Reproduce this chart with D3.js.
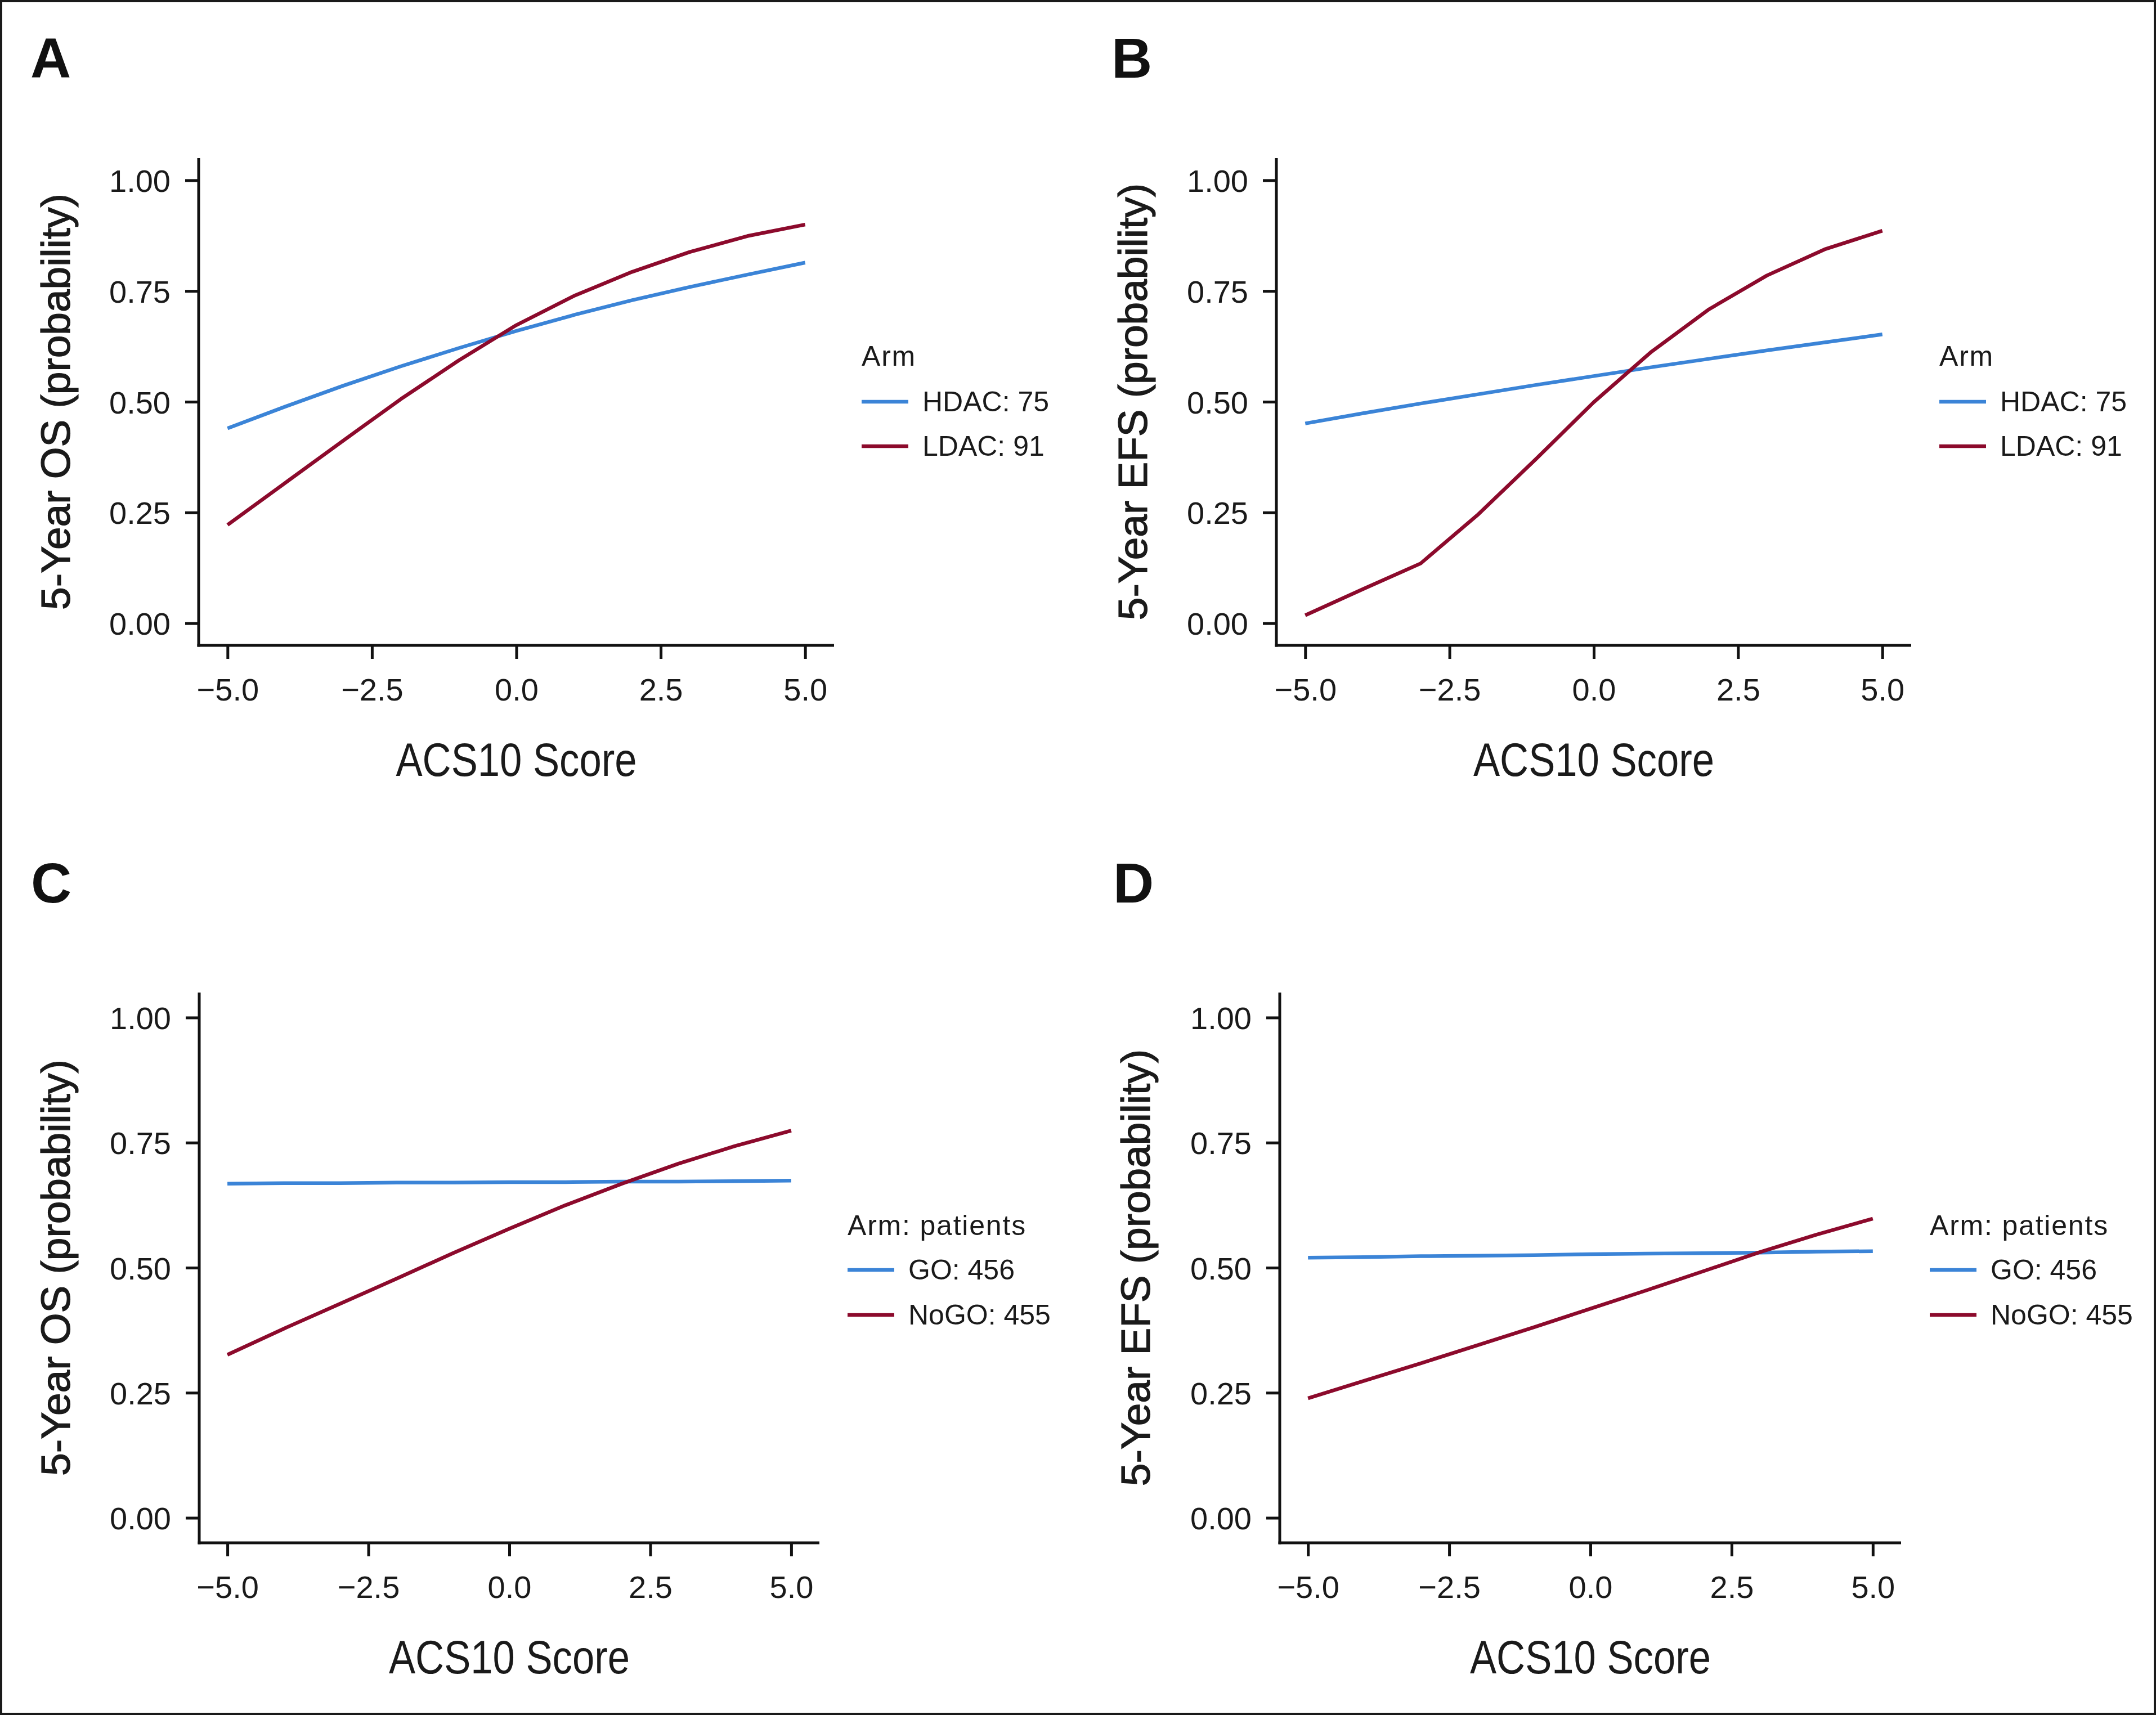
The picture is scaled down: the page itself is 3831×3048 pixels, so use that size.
<!DOCTYPE html>
<html>
<head>
<meta charset="utf-8">
<script src="https://cdn.jsdelivr.net/npm/d3@7"></script>
<style>
  html, body { margin: 0; padding: 0; background: #fff; }
  svg { display: block; }
  text { font-family: "Liberation Sans", Arial, Helvetica, sans-serif; fill: #1a1a1a; }
</style>
</head>
<body>
<svg id="chart" width="3831" height="3048"></svg>
<script>
// ---------- data ----------
const xValues = [-5, -4, -3, -2, -1, 0, 1, 2, 3, 4, 5];

const aHDAC = [0.440, 0.489, 0.536, 0.580, 0.621, 0.660, 0.696, 0.729, 0.759, 0.787, 0.814];
const aLDAC = [0.222, 0.317, 0.412, 0.506, 0.593, 0.673, 0.739, 0.793, 0.838, 0.874, 0.900];

const bHDAC = [0.451, 0.474, 0.496, 0.517, 0.538, 0.558, 0.578, 0.597, 0.616, 0.634, 0.652];
const bLDAC = [0.018, 0.077, 0.135, 0.246, 0.371, 0.499, 0.613, 0.709, 0.785, 0.844, 0.886];

const cGO   = [0.668, 0.669, 0.669, 0.670, 0.670, 0.671, 0.671, 0.672, 0.672, 0.673, 0.674];
const cNoGO = [0.326, 0.378, 0.428, 0.478, 0.529, 0.578, 0.625, 0.668, 0.708, 0.743, 0.774];

const dGO   = [0.520, 0.521, 0.523, 0.524, 0.525, 0.527, 0.528, 0.529, 0.530, 0.532, 0.533];
const dNoGO = [0.239, 0.274, 0.309, 0.345, 0.381, 0.418, 0.455, 0.493, 0.531, 0.566, 0.598];

const xTickValues = [-5, -2.5, 0, 2.5, 5];
const xTickLabels = ["\u22125.0", "\u22122.5", "0.0", "2.5", "5.0"];
const yTickValues = [0, 0.25, 0.5, 0.75, 1];
const yTickLabels = ["0.00", "0.25", "0.50", "0.75", "1.00"];

const panelLetters = ["A", "B", "C", "D"];
const yTitles = ["5-Year OS (probability)", "5-Year EFS (probability)", "5-Year OS (probability)", "5-Year EFS (probability)"];
const xTitle = "ACS10 Score";
const legendTitles = ["Arm", "Arm", "Arm: patients", "Arm: patients"];
const seriesNamesAB = ["HDAC: 75", "LDAC: 91"];
const seriesNamesCD = ["GO: 456", "NoGO: 455"];

// ---------- layout / style ----------
const COLORS = ["#3B84D7", "#8C0A2C"];
const FONT = '"Liberation Sans", Arial, Helvetica, sans-serif';

const panels = [
  { letter: panelLetters[0], ytitle: yTitles[0], legendTitle: legendTitles[0], names: seriesNamesAB, series: [aHDAC, aLDAC],
    left: 353, right: 1482, top: 281, bottom: 1147, letterX: 54, letterY: 138, yTitleX: 124,
    legX: 1531, legTitleY: 650, legY0: 714, legDY: 79 },
  { letter: panelLetters[1], ytitle: yTitles[1], legendTitle: legendTitles[1], names: seriesNamesAB, series: [bHDAC, bLDAC],
    left: 2268, right: 3396, top: 281, bottom: 1147, letterX: 1975, letterY: 138, yTitleX: 2038,
    legX: 3446, legTitleY: 650, legY0: 714, legDY: 79 },
  { letter: panelLetters[2], ytitle: yTitles[2], legendTitle: legendTitles[2], names: seriesNamesCD, series: [cGO, cNoGO],
    left: 354, right: 1456, top: 1764, bottom: 2742, letterX: 55, letterY: 1604, yTitleX: 124,
    legX: 1506, legTitleY: 2195, legY0: 2257, legDY: 80 },
  { letter: panelLetters[3], ytitle: yTitles[3], legendTitle: legendTitles[3], names: seriesNamesCD, series: [dGO, dNoGO],
    left: 2274, right: 3378, top: 1764, bottom: 2742, letterX: 1978, letterY: 1604, yTitleX: 2043,
    legX: 3429, legTitleY: 2195, legY0: 2257, legDY: 80 }
];

const svg = d3.select("#chart");

// outer border
svg.append("rect")
  .attr("x", 2).attr("y", 2).attr("width", 3827).attr("height", 3044)
  .attr("fill", "none").attr("stroke", "#1a1a1a").attr("stroke-width", 4);

panels.forEach(p => {
  const x = d3.scaleLinear().domain([-5.5, 5.5]).range([p.left, p.right]);
  const y = d3.scaleLinear().domain([-0.05, 1.05]).range([p.bottom, p.top]);
  const g = svg.append("g");

  // panel letter
  g.append("text").attr("x", p.letterX).attr("y", p.letterY)
    .style("font-size", "100px").style("font-weight", "bold").style("fill", "#111")
    .text(p.letter);

  // data lines
  const line = d3.line().x((d, i) => x(xValues[i])).y(d => y(d)).curve(d3.curveLinear);
  p.series.forEach((s, k) => {
    g.append("path").datum(s)
      .attr("d", line)
      .attr("fill", "none")
      .attr("stroke", COLORS[k])
      .attr("stroke-width", 6.5)
      .attr("stroke-linejoin", "round");
  });

  // x axis
  const xAxis = d3.axisBottom(x).tickValues(xTickValues)
    .tickFormat((d, i) => xTickLabels[i]).tickSizeOuter(0).tickSizeInner(24).tickPadding(0);
  const gx = g.append("g").attr("transform", `translate(0,${p.bottom})`).call(xAxis);
  gx.select(".domain").attr("stroke", "#111").attr("stroke-width", 5)
    .attr("d", `M${p.left - 2.5},0H${p.right}`);
  gx.selectAll(".tick line").attr("stroke", "#111").attr("stroke-width", 5);
  gx.selectAll(".tick text").attr("y", 98).attr("dy", 0)
    .style("font-size", "56px").style("font-family", FONT).attr("fill", "#1a1a1a");

  // y axis
  const yAxis = d3.axisLeft(y).tickValues(yTickValues)
    .tickFormat((d, i) => yTickLabels[i]).tickSizeOuter(0).tickSizeInner(24).tickPadding(26);
  const gy = g.append("g").attr("transform", `translate(${p.left},0)`).call(yAxis);
  gy.select(".domain").attr("stroke", "#111").attr("stroke-width", 5)
    .attr("d", `M0,${p.top}V${p.bottom + 2.5}`);
  gy.selectAll(".tick line").attr("stroke", "#111").attr("stroke-width", 5);
  gy.selectAll(".tick text").attr("dy", "0.36em")
    .style("font-size", "56px").style("font-family", FONT).attr("fill", "#1a1a1a");

  // x title
  g.append("text")
    .attr("x", (p.left + p.right) / 2).attr("y", p.bottom + 232)
    .attr("text-anchor", "middle")
    .attr("textLength", 428).attr("lengthAdjust", "spacingAndGlyphs")
    .style("font-size", "83px")
    .text(xTitle);

  // y title
  g.append("text")
    .attr("transform", `translate(${p.yTitleX},${(p.top + p.bottom) / 2}) rotate(-90)`)
    .attr("text-anchor", "middle")
    .style("font-size", "73px")
    .style("stroke", "#1a1a1a").style("stroke-width", 1.2)
    .text(p.ytitle);

  // legend
  g.append("text").attr("x", p.legX).attr("y", p.legTitleY)
    .style("font-size", "50px").style("letter-spacing", "1.8px").text(p.legendTitle);
  p.names.forEach((name, k) => {
    const ly = p.legY0 + k * p.legDY;
    g.append("line").attr("x1", p.legX).attr("x2", p.legX + 83)
      .attr("y1", ly).attr("y2", ly)
      .attr("stroke", COLORS[k]).attr("stroke-width", 6.5);
    g.append("text").attr("x", p.legX + 108).attr("y", ly + 17)
      .style("font-size", "50px").text(name);
  });
});
</script>
</body>
</html>
